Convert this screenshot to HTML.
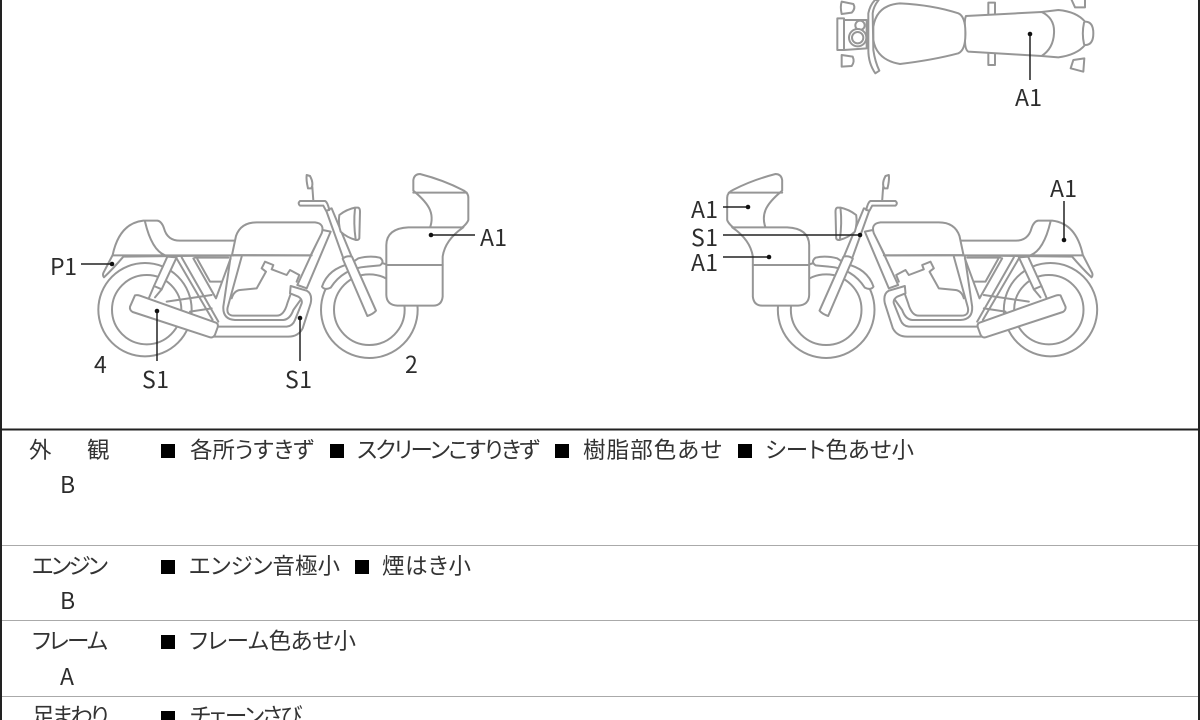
<!DOCTYPE html>
<html lang="ja"><head><meta charset="utf-8"><title>Motorcycle condition diagram</title>
<style>
html,body{margin:0;padding:0;background:#fff}
svg{display:block;filter:blur(.35px)}
.l{font-family:"Noto Sans CJK JP","Liberation Sans",sans-serif;font-size:23px;fill:#2c2c2c}
.j{font-family:"Liberation Sans","Noto Sans CJK JP",sans-serif;font-size:22.5px;fill:#333;font-feature-settings:"palt"}
.b{fill:#000}
.s{fill:#fff;stroke:#969696;stroke-width:6;stroke-linejoin:round;stroke-linecap:round}
.n{fill:none;stroke:#969696;stroke-width:6;stroke-linejoin:round;stroke-linecap:round}
.c{stroke:#222;stroke-width:1.5;fill:none}
</style></head><body>
<svg width="1200" height="720" viewBox="0 0 1200 720" xmlns="http://www.w3.org/2000/svg">
<defs>
<g id="bike">
 <circle class="s" cx="195" cy="449" r="140"/>
 <circle class="n" cx="200" cy="449" r="104"/>
 <!-- rear tail -->
 <path class="s" d="M72 352Q66 345 72 335L98 285Q118 190 190 182L232 182Q245 184 252 205Q262 242 300 242L470 242L460 286L130 290Q100 325 72 352Z"/>
 <path class="n" d="M195 185Q215 270 255 286"/>
 <!-- shock -->
 <path class="s" d="M262 290L222 378L245 388L290 292Z"/>
 <path class="n" d="M222 378L205 418M245 388L225 412"/>
 <!-- frame -->
 <path class="n" d="M305 292L415 485M288 292L398 480"/>
 <path class="n" d="M340 295L408 415L452 295M352 297L390 365H425M345 293H445"/>
 <path class="n" d="M260 425L395 405M330 455L395 445"/>
 <path class="n" d="M452 290L430 440Q428 478 465 480L610 480Q630 478 640 450L665 415"/>
 <path class="n" d="M485 290L443 442Q438 467 462 467L590 467Q612 467 622 430L638 385"/>
 <!-- engine -->
 <path class="n" d="M545 325L555 305L580 315L575 328L620 345L630 330L658 345L650 365M545 325L558 335L530 385L480 390Q462 392 455 415"/>
 <!-- down tube -->
 <path class="s" d="M728 210L652 375L680 385L752 215Z"/>
 <!-- tank -->
 <path class="s" d="M456 285L468 228Q482 187 530 187L705 187Q735 190 725 220L692 286Z"/>
 <path class="n" d="M100 286H695"/>
 <!-- exhaust pipes -->
 <path class="s" d="M632 378L680 392Q698 402 692 430L668 505Q655 530 625 530L400 530L410 500L620 500Q638 498 645 480L665 430Q668 418 655 410L630 400Z"/>
 <!-- muffler -->
 <path class="s" d="M165 406Q172 404 180 407L408 488Q416 492 413 502L405 524Q400 534 390 532L158 456Q148 450 150 440Z"/>
 <!-- front wheel -->
 <circle class="s" cx="868" cy="449" r="145"/>
 <circle class="n" cx="868" cy="449" r="106"/>
 <!-- front fender -->
 <path class="s" d="M726 380Q745 325 810 312L835 295Q870 286 900 293Q915 305 900 316L860 320Q790 325 752 383Q735 392 726 380Z"/>
 <!-- fork -->
 <path class="s" d="M738 150L755 145L815 290L790 295Z"/>
 <path class="s" d="M788 296Q800 286 816 290L888 452Q880 462 862 468Z"/>
 <!-- headlight -->
 <path class="s" d="M778 165Q800 148 825 143L835 143Q840 145 840 155L838 235Q836 241 828 240Q800 232 782 215Q774 190 778 165Z"/>
 <path class="n" d="M825 145Q820 190 827 238"/>
 <!-- bars & mirror -->
 <path class="s" d="M660 123H735Q742 125 748 150L738 152L730 137H660Q652 130 660 123Z"/>
 <path class="n" d="M697 80L700 122M680 45L690 48Q702 70 694 85L684 85Q678 60 680 45Z"/>
 <!-- pannier -->
 <path class="s" d="M1000 92L1000 60Q1003 42 1020 42Q1090 60 1148 90Q1166 98 1165 115L1165 180Q1160 195 1130 215L1045 215Q1062 180 1050 150Q1040 125 1000 92Z"/>
 <path class="n" d="M1000 98H1160"/>
 <path class="s" d="M919 255Q920 205 985 202L1150 202Q1095 240 1088 290L1088 410Q1085 437 1060 437L952 437Q920 435 919 405Z"/>
 <path class="n" d="M919 315H1088"/>
</g>
</defs>

<rect width="1200" height="720" fill="#fff"/>

<!-- left bike -->
<g transform="translate(80,160) scale(.33333)"><use href="#bike"/></g>
<!-- right bike (mirror) -->
<g transform="translate(1195.5,0) scale(-1,1) translate(80,160) scale(.33333)"><use href="#bike"/></g>

<!-- top view -->
<g transform="translate(820,0) scale(.33333)">
 <path class="s" d="M525 8H505V195H525V8Z"/>
 <path class="s" d="M755 0L765 22L795 22V0M760 180L752 205L790 215L793 175Z"/>
 <path class="s" d="M665 36L715 30Q770 35 795 65Q820 65 820 100Q820 135 795 135Q770 165 715 172L665 168Z"/>
 <path class="n" d="M792 68Q785 100 792 132"/>
 <path class="s" d="M438 48L665 36Q705 55 702 100Q700 145 665 168L445 155Q432 148 436 100Q432 60 438 48Z"/>
 <path class="s" d="M160 80Q170 15 240 10Q340 15 415 40Q437 50 436 100Q437 150 415 160Q340 180 240 192Q170 180 160 120Z"/>
 <path class="s" d="M65 5L100 12Q108 25 95 38L65 42Q60 20 65 5ZM65 165L98 170Q105 185 95 198L65 200Z"/>
 <path class="s" d="M52 55H72V150H52Z"/>
 <path class="s" d="M72 60L140 60V145L72 150Z"/>
 <circle class="s" cx="120" cy="76" r="14"/>
 <circle class="s" cx="113" cy="113" r="26"/>
 <circle class="n" cx="113" cy="113" r="17"/>
 <path class="s" d="M145 40Q150 15 165 0L176 0Q160 20 158 40L160 150Q165 185 178 212L166 220Q145 190 145 150Z"/>
</g>

<!-- connectors -->
<g class="c">
 <path d="M81 264H112"/><path d="M157 311V361"/><path d="M300 318V361"/><path d="M431 235H475"/>
 <path d="M723 207H748"/><path d="M723 235H860"/><path d="M723 257H769"/><path d="M1064 201V240"/><path d="M1030 34V80"/>
</g>
<g fill="#111">
 <circle cx="112" cy="264" r="2.3"/><circle cx="157" cy="311" r="2.3"/><circle cx="300" cy="318" r="2.3"/><circle cx="431" cy="235" r="2.3"/>
 <circle cx="748" cy="207" r="2.3"/><circle cx="860" cy="235" r="2.3"/><circle cx="769" cy="257" r="2.3"/><circle cx="1064" cy="240" r="2.3"/><circle cx="1030" cy="34" r="2.3"/>
</g>

<!-- labels -->
<text class="l" x="50" y="275" textLength="27">P1</text>
<text class="l" x="94" y="373">4</text>
<text class="l" x="142" y="388" textLength="27">S1</text>
<text class="l" x="285" y="388" textLength="27">S1</text>
<text class="l" x="405" y="373">2</text>
<text class="l" x="480" y="246" textLength="27">A1</text>
<text class="l" x="691" y="218" textLength="27">A1</text>
<text class="l" x="691" y="246" textLength="27">S1</text>
<text class="l" x="691" y="271" textLength="27">A1</text>
<text class="l" x="1050" y="197" textLength="27">A1</text>
<text class="l" x="1015" y="106" textLength="27">A1</text>

<!-- table lines -->
<rect x="0" y="0" width="2" height="720" fill="#222"/>
<rect x="1198" y="0" width="2" height="720" fill="#222"/>
<rect x="0" y="428.5" width="1200" height="2" fill="#222"/>
<rect x="2" y="545" width="1196" height="1" fill="#aaa"/>
<rect x="2" y="620" width="1196" height="1" fill="#aaa"/>
<rect x="2" y="696" width="1196" height="1" fill="#aaa"/>

<!-- table text -->
<text class="j" x="29" y="458">外</text><text class="j" x="87" y="458">観</text>
<text class="l" x="60" y="493">B</text>
<rect class="b" x="161" y="444" width="14" height="14"/>
<text class="j" x="190" y="458" textLength="124">各所うすきず</text>
<rect class="b" x="330" y="444" width="14" height="14"/>
<text class="j" x="357" y="458" textLength="183">スクリーンこすりきず</text>
<rect class="b" x="555" y="444" width="14" height="14"/>
<text class="j" x="583" y="458" textLength="139">樹脂部色あせ</text>
<rect class="b" x="738" y="444" width="14" height="14"/>
<text class="j" x="765" y="458" textLength="149">シート色あせ小</text>

<text class="j" x="32" y="574" textLength="76">エンジン</text>
<text class="l" x="60" y="609">B</text>
<rect class="b" x="161" y="560" width="14" height="14"/>
<text class="j" x="189" y="574" textLength="151">エンジン音極小</text>
<rect class="b" x="355" y="560" width="14" height="14"/>
<text class="j" x="382" y="574" textLength="89">煙はき小</text>

<text class="j" x="32" y="649" textLength="76">フレーム</text>
<text class="l" x="60" y="685">A</text>
<rect class="b" x="161" y="635" width="14" height="14"/>
<text class="j" x="189" y="649" textLength="167">フレーム色あせ小</text>

<text class="j" x="32" y="724" textLength="77">足まわり</text>
<rect class="b" x="161" y="711" width="14" height="14"/>
<text class="j" x="190" y="724" textLength="112">チェーンさび</text>
</svg>
</body></html>
